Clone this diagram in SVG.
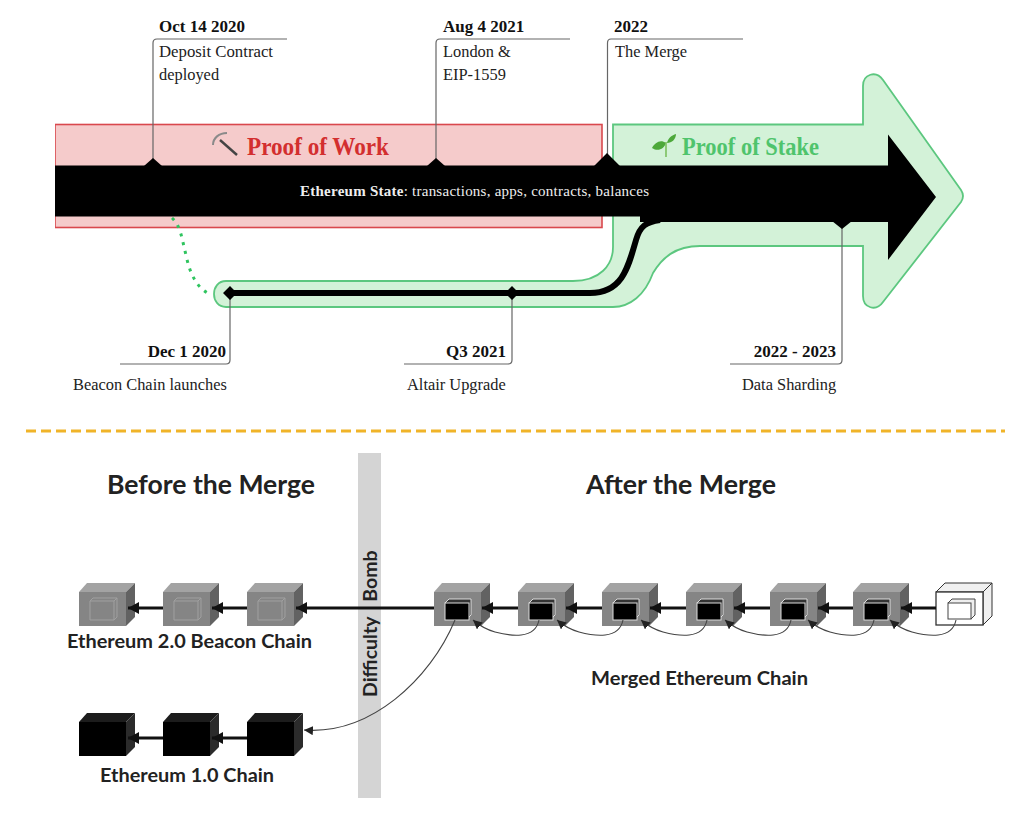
<svg xmlns="http://www.w3.org/2000/svg" width="1020" height="830" viewBox="0 0 1020 830">
<style>
.s{font-family:"Liberation Serif",serif;fill:#222;font-size:16.4px}
.sb{font-family:"Liberation Serif",serif;fill:#111;font-size:17px;font-weight:700}
.l{font-family:Lato,"Noto Sans",sans-serif;font-weight:700;fill:#222}
.lead{fill:none;stroke:#666;stroke-width:1.2}
.arr{stroke:#111;stroke-width:3;fill:none;marker-end:url(#head)}
.cur{stroke:#444;stroke-width:1.100;fill:none;marker-end:url(#thin)}
</style>
<defs>
<marker id="head" markerUnits="userSpaceOnUse" markerWidth="14" markerHeight="14" refX="11" refY="6" orient="auto"><path d="M11,6L0,0V12Z" fill="#111"/></marker>
<marker id="thin" markerUnits="userSpaceOnUse" markerWidth="11" markerHeight="11" refX="9" refY="4.500" orient="auto"><path d="M0,0L9,4.500L0,9Z" fill="#222"/></marker>
<g id="gray"><path d="M0,0L8,-9H56L47,0Z" fill="#a3a3a3"/><path d="M47,0L56,-9V25L47,34Z" fill="#626262"/><rect width="47" height="34" fill="#858585"/></g>
<g id="ghost"><path d="M11,9L14,6H38V25L35,28H11Z" fill="none" stroke="#a0a0a0"/><path d="M11,9H35V28M35,9L38,6" fill="none" stroke="#a0a0a0"/></g>
<g id="inner"><path d="M11,11L15,7H37V23L33,27" fill="#333" stroke="#ddd"/><rect x="11" y="11" width="24" height="17" fill="#000" stroke="#ddd"/></g>
<g id="black"><path d="M0,0L8,-9H56L47,0Z" fill="#1c1c1c"/><path d="M47,0L56,-9V25L47,34Z" fill="#2b2b2b"/><rect width="47" height="34" fill="#000"/></g>
</defs>
<rect width="1020" height="830" fill="#fff"/>
<g id="pow">
<rect x="55" y="124.500" width="547" height="103" fill="#f5cbcb" stroke="#d9484d" stroke-width="1.600"/>
<rect x="40" y="122" width="15" height="108" fill="#fff"/>
<path d="M213,145C213,138 219,133 227,133" fill="none" stroke="#8a8a8a" stroke-width="2"/>
<path d="M220,140L237,155" fill="none" stroke="#444" stroke-width="2.400"/>
<text x="247" y="155" font-family="Liberation Serif,serif" font-weight="700" font-size="26" fill="#d32f2f" textLength="142" lengthAdjust="spacingAndGlyphs">Proof of Work</text>
</g>
<g id="pos">
<path d="M613,124.500H863V86C863,74 876,70 883,80L961,190Q965,196 961,202L883,302C876,312 863,308 863,296V246H700C675,246 662,258 653,273C645,295 630,307 613,307H226C210,307 210,281 226,281H573C600,281 613,265 613,247Z" fill="#d3f2d8" stroke="#5cc77f" stroke-width="1.800"/>
<path d="M666,143C660,139 655,143 652,148C658,152 664,149 666,143ZM667,143C668,138 672,135 676,134C676,139 672,143 667,143Z" fill="#4da83a"/>
<path d="M666,142V157" stroke="#7bbf5e" stroke-width="1.600" fill="none"/>
<text x="682" y="155" font-family="Liberation Serif,serif" font-weight="700" font-size="25" fill="#4fc46c" textLength="137" lengthAdjust="spacingAndGlyphs">Proof of Stake</text>
</g>
<g id="connectors">
<path d="M172,218C181,226 182,240 186,255C190,275 198,290 212,295" fill="none" stroke="#2fc45f" stroke-width="3" stroke-dasharray="3 6"/>
<path class="lead" d="M153,165V43Q153,39 157,39H287M436,165V43Q436,39 440,39H570M607.500,160V43Q607.500,39 611,39H743M230,293V360Q230,364 226,364H120M512,293V360Q512,364 508,364H404M842,222V360Q842,364 838,364H730"/>
<path d="M230,293H590C622,293 628,268 636,240C640,226 646,222 660,220" fill="none" stroke="#000" stroke-width="6"/>
</g>
<g id="state">
<path d="M55,165.500H888V134.500L936,197L888,260V222H640V216.500H55Z" fill="#000"/>
<path d="M153,158L162,166H144ZM436,158L445,166H427ZM607,153L620,166H594ZM842,229L852,221H832Z" fill="#000"/>
<path d="M230,286L237,293L230,300L223,293ZM512,286L519,293L512,300L505,293Z" fill="#000"/>
<text x="300" y="196" font-family="Liberation Serif,serif" font-size="15" fill="#eee" textLength="349"><tspan font-weight="700">Ethereum State</tspan>: transactions, apps, contracts, balances</text>
</g>
<g id="labels">
<text class="sb" x="159" y="32">Oct 14 2020</text><text class="s" x="159" y="57" textLength="114" lengthAdjust="spacingAndGlyphs">Deposit Contract</text><text class="s" x="159" y="80">deployed</text>
<text class="sb" x="443" y="32">Aug 4 2021</text><text class="s" x="443" y="57">London &amp;</text><text class="s" x="443" y="80">EIP-1559</text>
<text class="sb" x="614" y="32">2022</text><text class="s" x="615" y="57">The Merge</text>
<text class="sb" x="226" y="357" text-anchor="end">Dec 1 2020</text><text class="s" x="73" y="390">Beacon Chain launches</text>
<text class="sb" x="506" y="357" text-anchor="end">Q3 2021</text><text class="s" x="407" y="390">Altair Upgrade</text>
<text class="sb" x="836" y="357" text-anchor="end">2022 - 2023</text><text class="s" x="742" y="390">Data Sharding</text>
</g>
<path id="divider" d="M26,431H1005" stroke="#f0b429" stroke-width="3" stroke-dasharray="10 5"/>
<g id="bomb">
<rect x="358" y="453" width="23" height="345" fill="#d4d4d4"/>
<text class="l" font-size="19.500" transform="translate(377 697) rotate(-90)">Difficulty<tspan dx="15">Bomb</tspan></text>
</g>
<text class="l" x="107" y="494" font-size="26" textLength="208" lengthAdjust="spacingAndGlyphs">Before the Merge</text>
<text class="l" x="586" y="494" font-size="26" textLength="190" lengthAdjust="spacingAndGlyphs">After the Merge</text>
<g id="beacon1"><use href="#gray" x="79" y="592"/><use href="#ghost" x="79" y="592"/></g>
<g id="beacon2"><use href="#gray" x="163" y="592"/><use href="#ghost" x="163" y="592"/></g>
<g id="beacon3"><use href="#gray" x="247" y="592"/><use href="#ghost" x="247" y="592"/></g>
<g id="merged1"><use href="#gray" x="434" y="592"/><use href="#inner" x="434" y="592"/></g>
<g id="merged2"><use href="#gray" x="518" y="592"/><use href="#inner" x="518" y="592"/></g>
<g id="merged3"><use href="#gray" x="602" y="592"/><use href="#inner" x="602" y="592"/></g>
<g id="merged4"><use href="#gray" x="686" y="592"/><use href="#inner" x="686" y="592"/></g>
<g id="merged5"><use href="#gray" x="770" y="592"/><use href="#inner" x="770" y="592"/></g>
<g id="merged6"><use href="#gray" x="853" y="592"/><use href="#inner" x="853" y="592"/></g>
<g id="next">
<path d="M936,592L945,583H992L983,592ZM983,592L992,583V616L983,625Z" fill="#f0f0f0" stroke="#333"/><rect x="936" y="592" width="47" height="33" fill="#fff" stroke="#333" stroke-width="1.300"/>
<path d="M948,603L952,599H975V615L971,619" fill="#eee" stroke="#444"/><rect x="948" y="603" width="23" height="16" fill="#fff" stroke="#444"/>
</g>
<g id="eth1a"><use href="#black" x="79" y="722"/></g>
<g id="eth1b"><use href="#black" x="163" y="722"/></g>
<g id="eth1c"><use href="#black" x="247" y="722"/></g>
<g id="chain-arrows">
<path class="arr" d="M163,608H128"/><path class="arr" d="M247,608H212"/><path class="arr" d="M434,608H296"/>
<path class="arr" d="M518,608H482"/><path class="arr" d="M602,608H566"/><path class="arr" d="M686,608H650"/><path class="arr" d="M770,608H734"/><path class="arr" d="M853,608H818"/><path class="arr" d="M936,608H901"/>
<path class="arr" d="M163,738H128"/><path class="arr" d="M247,738H212"/>
</g>
<g id="curves">
<path class="cur" d="M455,620C430,680 370,735 304,730"/>
<path class="cur" d="M539,620C535,640 510,636 495,632C488,630 480,626 473,620"/><path class="cur" d="M623,620C619,640 594,636 579,632C572,630 564,626 557,620"/><path class="cur" d="M707,620C703,640 678,636 663,632C656,630 648,626 641,620"/><path class="cur" d="M791,620C787,640 762,636 747,632C740,630 732,626 725,620"/><path class="cur" d="M874,620C870,640 845,636 830,632C823,630 815,626 808,620"/><path class="cur" d="M956,620C952,640 927,636 912,632C905,630 897,626 890,620"/>
</g>
<text class="l" x="67" y="648" font-size="19" textLength="245" lengthAdjust="spacingAndGlyphs">Ethereum 2.0 Beacon Chain</text>
<text class="l" x="100" y="782" font-size="19" textLength="174" lengthAdjust="spacingAndGlyphs">Ethereum 1.0 Chain</text>
<text class="l" x="591" y="685" font-size="19" textLength="217" lengthAdjust="spacingAndGlyphs">Merged Ethereum Chain</text>
</svg>
